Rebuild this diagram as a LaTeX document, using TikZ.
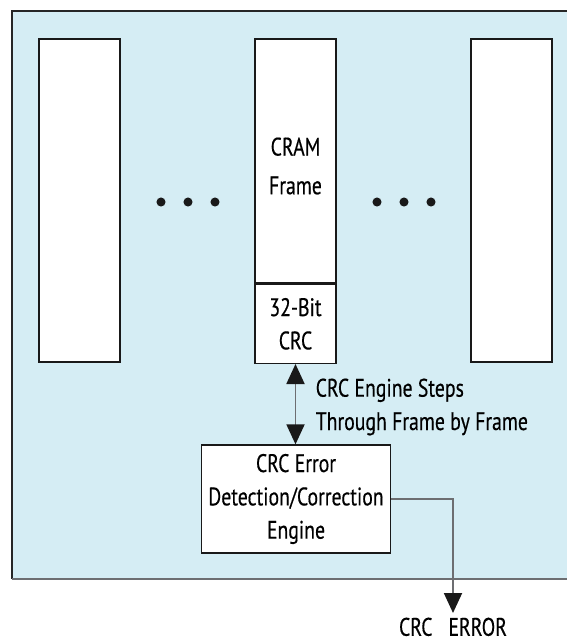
\documentclass[tikz,border=0pt]{standalone}
\usepackage{fontspec}
\setmainfont{PT Sans}[FakeStretch=0.78, FakeBold=0.4]
\usetikzlibrary{arrows.meta, positioning, calc}
\definecolor{panelblue}{HTML}{D5EDF4}
\definecolor{edgegray}{HTML}{6D6E71}

\begin{document}
\begin{tikzpicture}[
    x=0.75pt, y=-0.75pt,
    font=\fontsize{19}{25}\selectfont,
    column/.style={rectangle, draw=black!90, fill=white, line width=1pt, minimum width=60.75pt, minimum height=242.25pt, inner sep=0pt},
    block/.style={rectangle, draw=black!90, fill=white, line width=1pt, align=center, inner sep=0pt},
    line/.style={draw=edgegray, line width=1.4pt, -{Triangle[length=15pt, width=13.5pt, color=black!90]}}
]
\useasboundingbox (0,0) rectangle (567,643);

% panel
\fill [panelblue] (12,11) rectangle (567,579);
\draw [black!85, line width=1pt] (567,11) -- (12,11) -- (12,579);
\draw [edgegray, line width=1.4pt] (12,579) -- (567,579);

\node [column] (left) at (79.5,200.5) {};
\node [column] (right) at (511.5,200.5) {};
\node [block, minimum width=60.75pt, minimum height=183pt] (cram) at (295.5,161) {};
\node (cramtext) at (295.5,166) [align=center] {CRAM\\[4pt]Frame};
\node [block, minimum width=60.75pt, minimum height=59.25pt, below=0pt of cram] (crc) {32-Bit\\CRC};

\foreach \x in {161,188,215,377,404,431}
    \fill [black!90] (\x,202) circle (3.4pt);

\node [block, minimum width=141.75pt, minimum height=81pt] (engine) at (296,499) {CRC Error\\Detection/Correction\\Engine};
\node [anchor=west, align=left] (steps) at (311,407) {CRC Engine Steps\\Through Frame by Frame};

\coordinate (bend) at (engine.east -| 453,0);
\coordinate (out) at (453,613);
\node [below=0pt of out] (error) {CRC\hspace{12pt}ERROR};

\path [line, {Triangle[length=15pt, width=13.5pt, color=black!90]}-{Triangle[length=15pt, width=13.5pt, color=black!90]}] (crc) -- (crc |- engine.north);
\path [line] (engine.east) -- (bend) -- (out);
\end{tikzpicture}
\end{document}
